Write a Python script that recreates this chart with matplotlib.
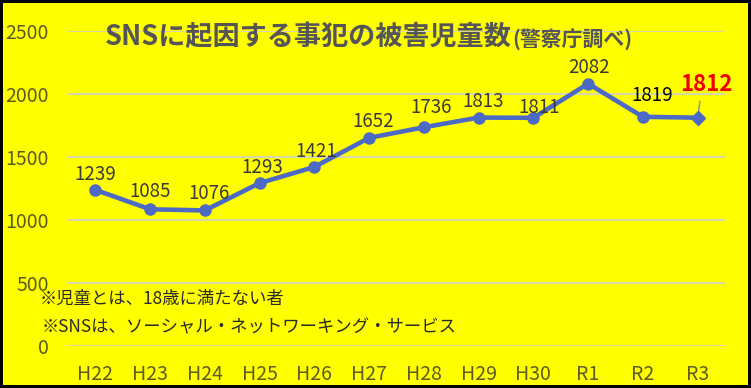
import matplotlib.pyplot as plt

plt.rcParams['font.family'] = ['Noto Sans CJK JP', 'DejaVu Sans']

years = ["H22", "H23", "H24", "H25", "H26", "H27", "H28", "H29", "H30", "R1", "R2", "R3"]
victims = [1239, 1085, 1076, 1293, 1421, 1652, 1736, 1813, 1811, 2082, 1819, 1812]
y_ticks = [0, 500, 1000, 1500, 2000, 2500]

# label offsets in points (dx, dy)
offsets = [(0, 11), (0, 13), (3, 12), (2, 11), (1, 11), (3, 11.5), (5, 14),
           (3, 11.5), (4, 7.5), (1, 11.5), (6.5, 15), (6, 24)]

fig = plt.figure(figsize=(7.51, 3.88), dpi=100, facecolor='#ffff00',
                 edgecolor='black', linewidth=3)
ax = fig.add_axes([68/751, 42/388, 657/751, 315/388])
ax.set_facecolor('#ffff00')

x = list(range(len(years)))
line_col = '#4d69c6'
ax.plot(x[:-1], victims[:-1], color=line_col, lw=3.3, marker='o', ms=8, zorder=3)
ax.plot(x[-2:], victims[-2:], color=line_col, lw=3.3, zorder=3)
ax.plot(x[-1], victims[-1], color=line_col, marker='D', ms=7, zorder=3)

for i, v in enumerate(victims):
    dx, dy = offsets[i]
    if i == len(victims) - 1:
        ax.annotate(str(v), (i, v), xytext=(dx, dy), textcoords='offset points',
                    ha='center', va='center', fontsize=16, fontweight='bold', color='#ee0000',
                    zorder=2,
                    arrowprops=dict(arrowstyle='-', color='#8c8c8c', lw=1.0, relpos=(0.4, 0.0),
                                    shrinkA=2, shrinkB=2))
    else:
        col = 'black' if i == 10 else '#3a3a3a'
        ax.annotate(str(v), (i, v), xytext=(dx, dy), textcoords='offset points',
                    ha='center', va='center', fontsize=13.5, color=col)

ax.set_xlim(-0.5, 11.5)
ax.set_ylim(0, 2500)
ax.set_yticks(y_ticks)
ax.set_xticks(x)
ax.set_xticklabels(years)
ax.grid(axis='y', color='#d8d8a8', lw=1.5)
ax.set_axisbelow(True)
for s in ax.spines.values():
    s.set_visible(False)
ax.tick_params(length=0, labelsize=14, labelcolor='#5c5c20')
ax.tick_params(axis='x', pad=13)
ax.tick_params(axis='y', pad=14)

fig.text(105/751, 1 - 37/388, "SNSに起因する事犯の被害児童数", fontsize=19.5, fontweight='bold',
         color='#555555', va='center')
fig.text(512/751, 1 - 39/388, "(警察庁調べ)", fontsize=15, fontweight='bold',
         color='#555555', va='center')

fig.text(40/751, 1 - 299/388, "※児童とは、18歳に満たない者", fontsize=12.5, color='#2a2a2a', va='center')
fig.text(42/751, 1 - 327/388, "※SNSは、ソーシャル・ネットワーキング・サービス", fontsize=12.5,
         color='#2a2a2a', va='center')

fig.savefig('out.png', dpi=100, facecolor=fig.get_facecolor(), edgecolor='black')
